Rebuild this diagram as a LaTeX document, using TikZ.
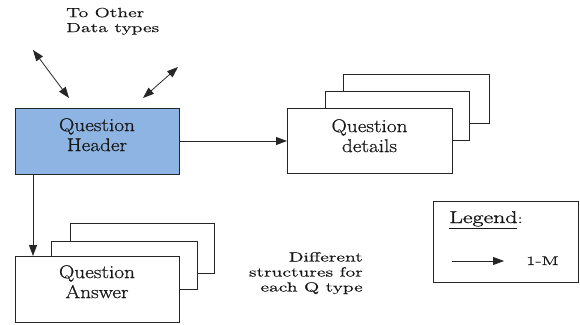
\documentclass[tikz,border=0pt]{standalone}
\usepackage{fontspec}
\usetikzlibrary{arrows.meta}
\newfontfamily\boxfont[FakeStretch=1.15,FakeBold=0.7]{Latin Modern Roman}
\newfontfamily\notefont[FakeStretch=1.5,FakeBold=0.5]{Latin Modern Roman}
\newfontfamily\legendfont[FakeStretch=1.4,FakeBold=1.6]{Latin Modern Roman}
\definecolor{hdrblue}{HTML}{8DB4E2}
\definecolor{edge}{HTML}{262626}

\begin{document}
\begin{tikzpicture}[x=1pt,y=-1pt,
  box/.style={draw=edge, line width=0.8pt, fill=white, inner sep=0pt, outer sep=0pt, anchor=north west},
  boxtext/.style={font=\boxfont\fontsize{18.5}{20}\selectfont, align=center, inner sep=0pt, text=black!90},
  notetext/.style={font=\notefont\fontsize{13.2}{15}\selectfont, inner sep=0pt, text=black!90},
  link/.style={draw=edge, line width=0.8pt, -{Triangle[length=11pt,width=8pt]}},
  twoway/.style={draw=edge, line width=0.8pt, {Triangle[length=11pt,width=8pt]}-{Triangle[length=11pt,width=8pt]}}]

\useasboundingbox (0,0) rectangle (580,324);

% header entity
\node[box, fill=hdrblue, minimum width=164pt, minimum height=66pt] (header) at (15,108) {};
\node[boxtext] (headerlabel) at (97,134.7) {Question\\Header};

% stacked detail records
\node[box, minimum width=146pt, minimum height=49pt] (detailsC) at (343,74) {};
\node[box, minimum width=144pt, minimum height=49pt] (detailsB) at (325,91) {};
\node[box, minimum width=165pt, minimum height=65pt] (details) at (287,108.5) {};
\node[boxtext] (detailslabel) at (369.5,135.7) {Question\\details};

% stacked answer records
\node[box, minimum width=144pt, minimum height=50pt] (answerC) at (70,223) {};
\node[box, minimum width=146pt, minimum height=48pt] (answerB) at (51,241) {};
\node[box, minimum width=164pt, minimum height=66.5pt] (answer) at (15,256) {};
\node[boxtext] (answerlabel) at (97,281.7) {Question\\Answer};

% links to other data types
\node[notetext, align=left, anchor=west] (others) at (66,21.3) {To Other\\Data types};
\coordinate (ta1) at (33,50);
\coordinate (ta2) at (69,98);
\coordinate (tb1) at (143,98);
\coordinate (tb2) at (178,67);
\draw[twoway] (ta1) -- (ta2);
\draw[twoway] (tb1) -- (tb2);

% one-to-many relations
\draw[link] (header.east) -- (details.west);
\draw[link] ([xshift=18pt]header.south west) -- ([xshift=18pt]answer.north west);

% side note
\node[notetext, align=right, anchor=east] (note) at (363,273.2) {Different\\structures for\\each Q type};

% legend
\node[box, minimum width=145pt, minimum height=81pt] (legend) at (433,201) {};
\node[notetext, anchor=base west] (legendtitle) at (449,223) {{\legendfont\fontsize{17}{19}\selectfont\underline{Legend}}:};
\coordinate (lg1) at (452,261);
\coordinate (lg2) at (504,261);
\draw[link] (lg1) -- (lg2);
\node[notetext, anchor=base west, font=\notefont\fontsize{12.6}{14}\selectfont] (legendkey) at (526,265) {1-M};

\end{tikzpicture}
\end{document}
